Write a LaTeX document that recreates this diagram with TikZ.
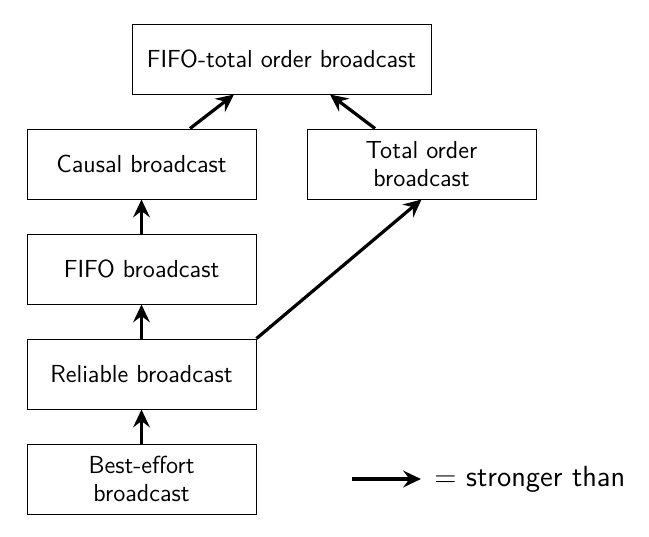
\documentclass[tikz,border=0pt]{standalone}
\usetikzlibrary{arrows.meta,calc}
\begin{document}
\begin{tikzpicture}[x=0.45pt,y=-0.45pt,
  box/.style={draw,line width=0.45pt,minimum width=229*0.45pt,minimum height=70*0.45pt,inner sep=0pt,align=center,font=\sffamily\fontsize{11.1}{12.8}\selectfont},
  strong/.style={line width=1.45pt,-{Stealth[length=8pt,width=7.5pt,inset=2.8pt]}}]
\useasboundingbox (0,0) rectangle (649,536);
\node[box,minimum width=299*0.45pt] (top) at (281.5,59) {FIFO-total order broadcast};
\node[box] (causal) at (141.5,164) {Causal broadcast};
\node[box] (total) at (421.5,164) {Total order\\broadcast};
\node[box] (fifo) at (141.5,269) {FIFO broadcast};
\node[box] (rel) at (141.5,374) {Reliable broadcast};
\node[box] (best) at (141.5,479) {Best-effort\\broadcast};
\draw[strong] ($(causal.north)+(48.5,0)$) -- ($(top.south)+(-47.5,0)$);
\draw[strong] ($(total.north)+(-46.5,0)$) -- ($(top.south)+(48.5,0)$);
\draw[strong] (fifo) -- (causal);
\draw[strong] (rel) -- (fifo);
\draw[strong] (best) -- (rel);
\draw[strong] (rel.north east) -- (total.south);
\coordinate (la) at (352,479);
\node[anchor=west,font=\sffamily\fontsize{13.1}{15}\selectfont,inner sep=0pt] (leg) at (434,479) {= stronger than};
\draw[strong] (la) -- ($(leg.west)+(-13,0)$);
\end{tikzpicture}
\end{document}
